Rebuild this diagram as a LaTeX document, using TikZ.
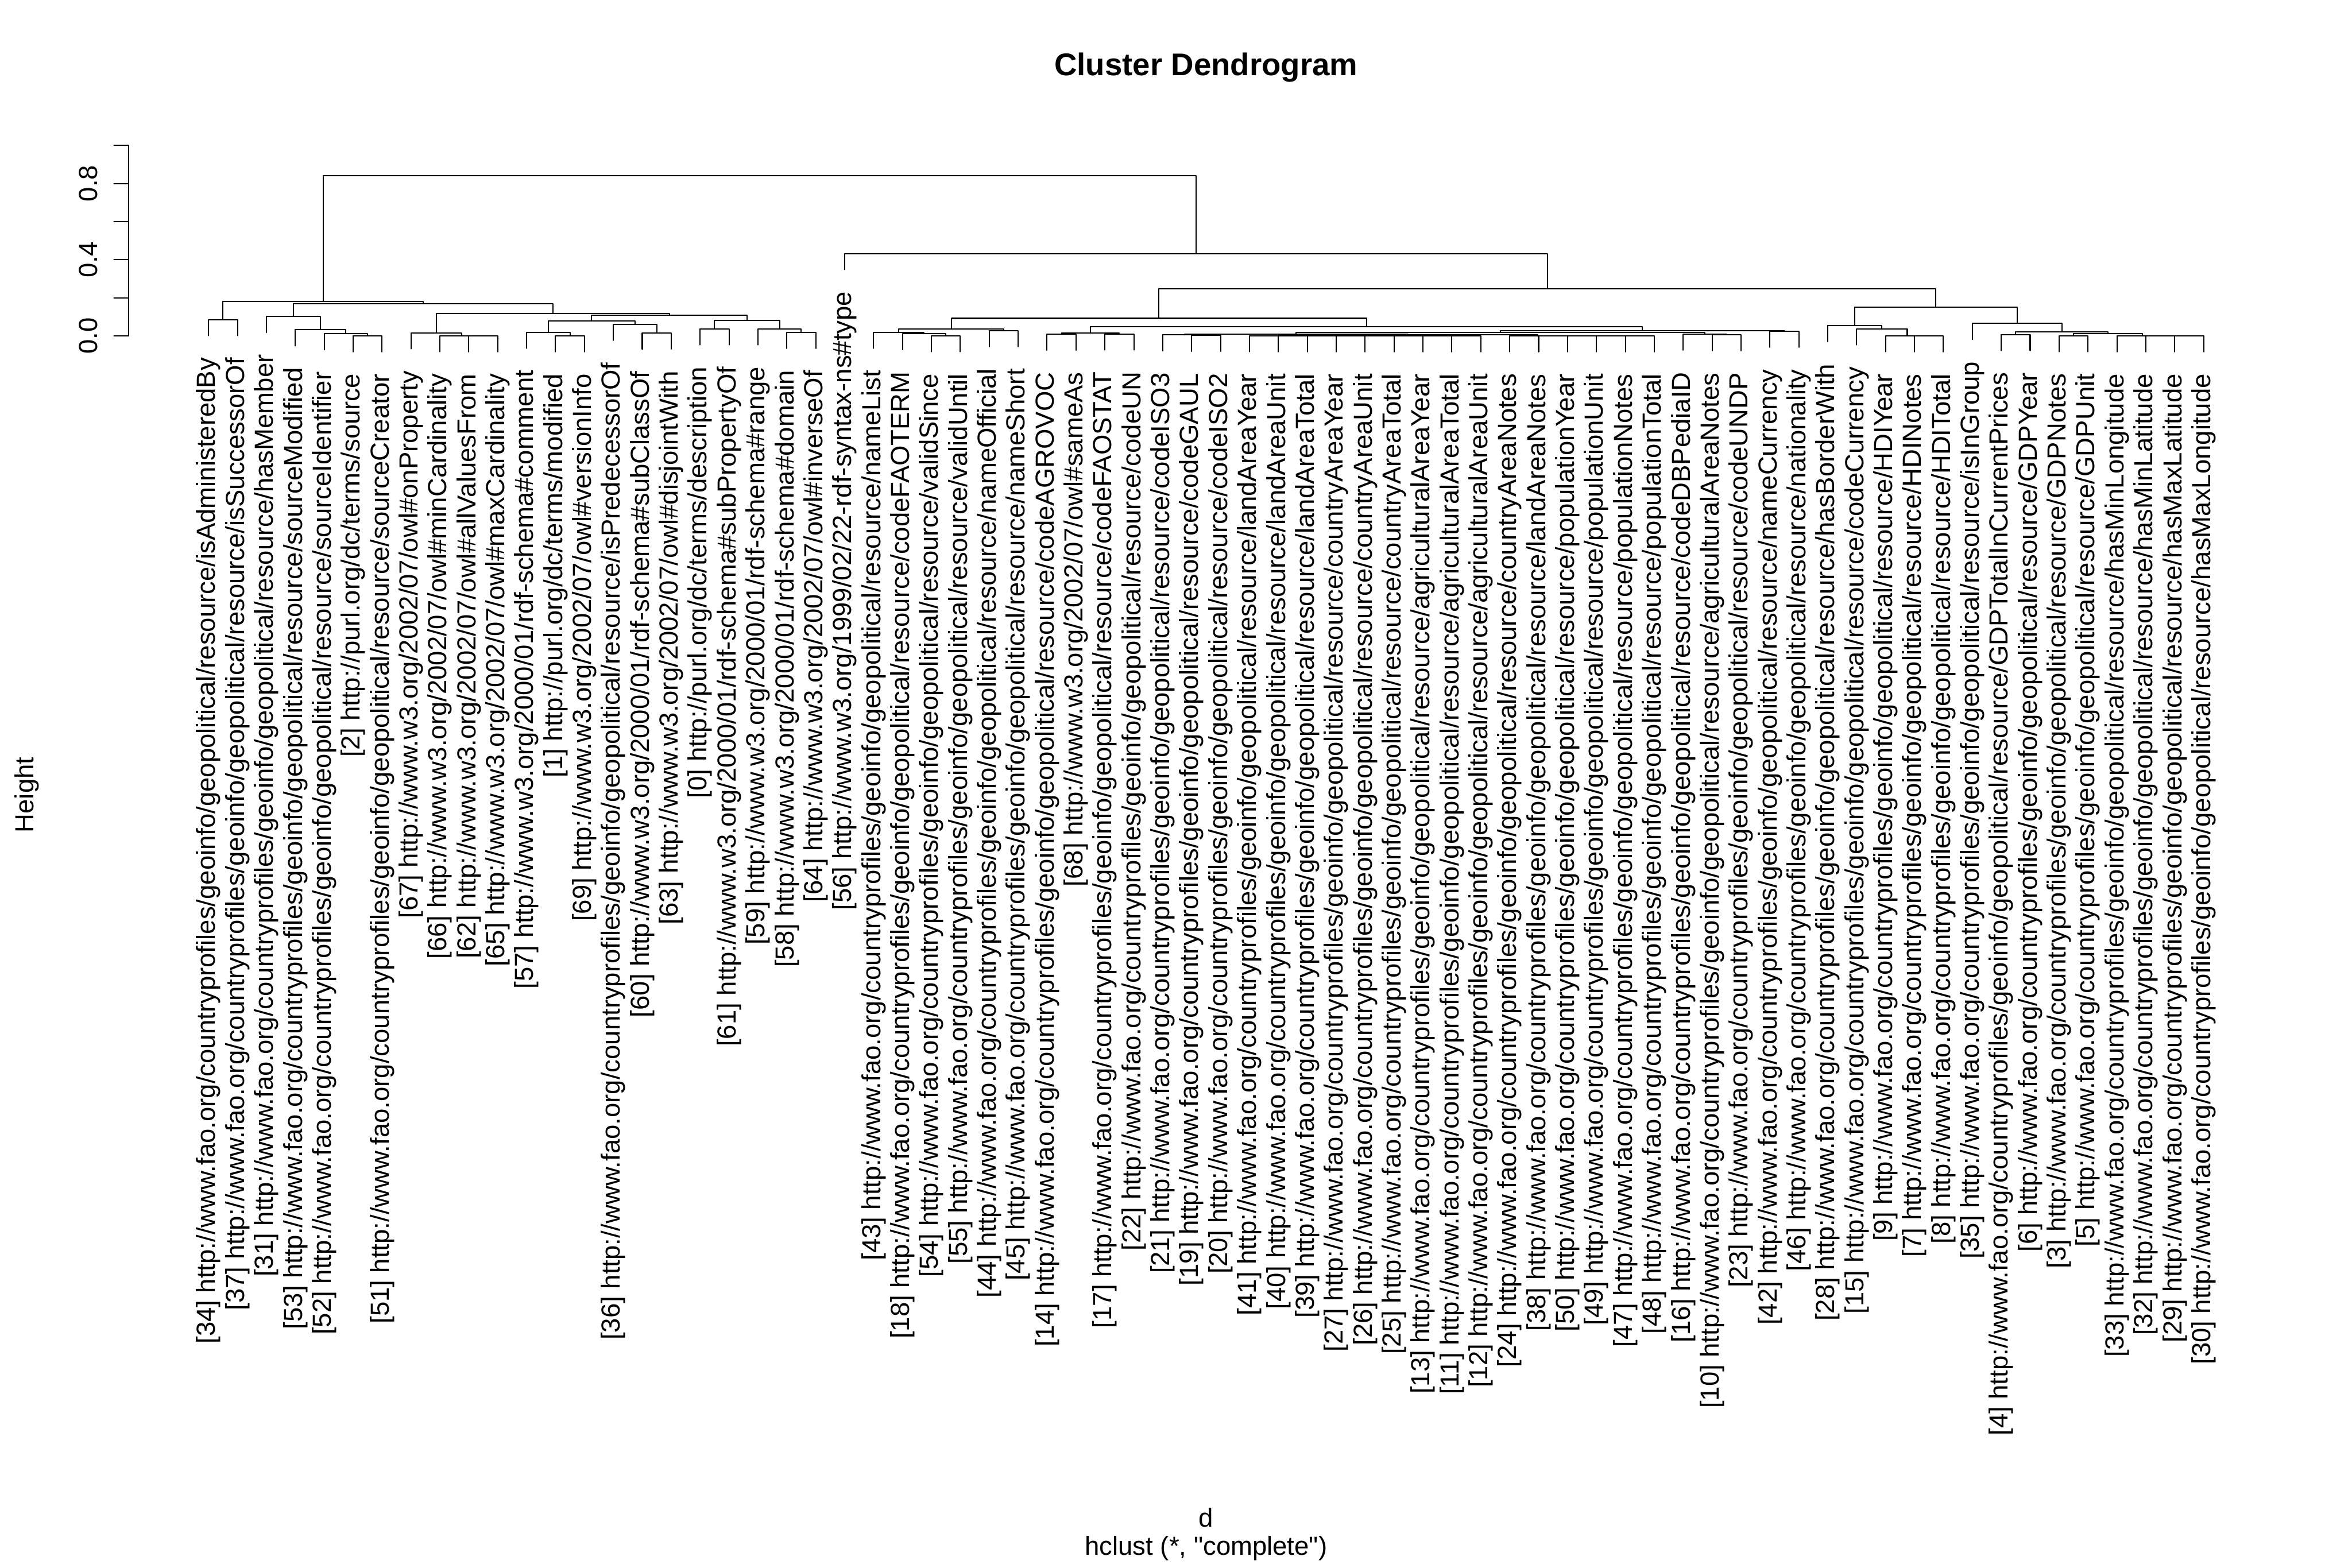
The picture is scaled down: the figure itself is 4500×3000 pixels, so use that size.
\documentclass[tikz,border=0pt]{standalone}
\usepackage{fontspec}
\setmainfont{Liberation Sans}
\newfontfamily\plainqfont{Liberation Sans}
\usetikzlibrary{calc}
\newcommand\FGeo{http://www.fao.org/countryprofiles/geoinfo/geopolitical/resource/}
\newcommand\FOwl{http://www.w3.org/2002/07/owl\#}
\newcommand\FRdfs{http://www.w3.org/2000/01/rdf-schema\#}
\newcommand\FDc{http://purl.org/dc/terms/}
% leaf: index, parent height, label
\newcommand\lf[3]{%
  \pgfmathsetmacro\lfx{399+(#1-1)*55.32}%
  \pgfmathsetmacro\lfy{642.7-364.4*(#2-0.084)}%
  \coordinate (l#1) at (\lfx,\lfy);
  \node[lab] (t#1) at ([yshift=-8.4pt]l#1) {#3};
}
% merge: name, child a, child b, height
\newcommand\mg[4]{%
  \path let \p1=(#2), \p2=(#3) in coordinate (#1) at ({0.5*\x1+0.5*\x2},{-0.2pt*(642.7-364.4*(#4))});
  \draw[tree] (#2) |- (#1) -| (#3);
}
\begin{document}
\begin{tikzpicture}[x=0.2pt,y=-0.2pt,
  tree/.style={line width=0.45pt, line cap=round, line join=round},
  lab/.style={inner sep=0pt, outer sep=0pt, font=\fontsize{10pt}{12pt}\selectfont, rotate=90, anchor=east},
  axlab/.style={inner sep=0pt, outer sep=0pt, font=\fontsize{10pt}{12pt}\selectfont, rotate=90, anchor=base},
  txt/.style={inner sep=0pt, outer sep=0pt, font=\fontsize{10pt}{12pt}\selectfont, anchor=base}]
\fill[white] (0,0) rectangle (4500,3000);
\useasboundingbox (0,0) rectangle (4500,3000);

% title and axis titles
\node[txt, font=\fontsize{12pt}{14pt}\selectfont\bfseries] (title) at (2307.5,144.5) {Cluster Dendrogram};
\node[axlab] (ylabel) at (64,1521) {Height};
\node[txt] (xlabel) at (2307.5,2922) {d};
\node[txt, font=\fontsize{10pt}{12pt}\plainqfont] (sublabel) at (2307.5,2976) {hclust (*, "complete")};

% y axis
\coordinate (ax0) at (246,642.7);
\coordinate (ax1) at (246,278.3);
\draw[tree] (ax0) -- (ax1);
\foreach \v [count=\k] in {0,0.2,0.4,0.6,0.8,1.0}{
  \coordinate (tk\k) at (246,{642.7-364.4*\v});
  \coordinate (tke\k) at (218,{642.7-364.4*\v});
  \draw[tree] (tk\k) -- (tke\k);
}
\node[axlab] (y00) at (186,642.7) {0.0};
\node[axlab] (y04) at (186,496.94) {0.4};
\node[axlab] (y08) at (186,351.18) {0.8};

% leaves
\lf{1}{0.085}{[34] \FGeo isAdministeredBy}
\lf{2}{0.085}{[37] \FGeo isSuccessorOf}
\lf{3}{0.102}{[31] \FGeo hasMember}
\lf{4}{0.032}{[53] \FGeo sourceModified}
\lf{5}{0.011}{[52] \FGeo sourceIdentifier}
\lf{6}{0.000}{[2] \FDc source}
\lf{7}{0.000}{[51] \FGeo sourceCreator}
\lf{8}{0.016}{[67] \FOwl onProperty}
\lf{9}{0.001}{[66] \FOwl minCardinality}
\lf{10}{0.000}{[62] \FOwl allValuesFrom}
\lf{11}{0.000}{[65] \FOwl maxCardinality}
\lf{12}{0.019}{[57] \FRdfs comment}
\lf{13}{0.000}{[1] \FDc modified}
\lf{14}{0.000}{[69] \FOwl versionInfo}
\lf{15}{0.060}{[36] \FGeo isPredecessorOf}
\lf{16}{0.014}{[60] \FRdfs subClassOf}
\lf{17}{0.014}{[63] \FOwl disjointWith}
\lf{18}{0.037}{[0] \FDc description}
\lf{19}{0.037}{[61] \FRdfs subPropertyOf}
\lf{20}{0.037}{[59] \FRdfs range}
\lf{21}{0.018}{[58] \FRdfs domain}
\lf{22}{0.018}{[64] \FOwl inverseOf}
\lf{23}{0.432}{[56] http://www.w3.org/1999/02/22-rdf-syntax-ns\#type}
\lf{24}{0.019}{[43] \FGeo nameList}
\lf{25}{0.012}{[18] \FGeo codeFAOTERM}
\lf{26}{0.001}{[54] \FGeo validSince}
\lf{27}{0.001}{[55] \FGeo validUntil}
\lf{28}{0.027}{[44] \FGeo nameOfficial}
\lf{29}{0.027}{[45] \FGeo nameShort}
\lf{30}{0.008}{[14] \FGeo codeAGROVOC}
\lf{31}{0.008}{[68] \FOwl sameAs}
\lf{32}{0.010}{[17] \FGeo codeFAOSTAT}
\lf{33}{0.010}{[22] \FGeo codeUN}
\lf{34}{0.005}{[21] \FGeo codeISO3}
\lf{35}{0.002}{[19] \FGeo codeGAUL}
\lf{36}{0.002}{[20] \FGeo codeISO2}
\lf{37}{0.001}{[41] \FGeo landAreaYear}
\lf{38}{0.000}{[40] \FGeo landAreaUnit}
\lf{39}{0.000}{[39] \FGeo landAreaTotal}
\lf{40}{0.000}{[27] \FGeo countryAreaYear}
\lf{41}{0.000}{[26] \FGeo countryAreaUnit}
\lf{42}{0.000}{[25] \FGeo countryAreaTotal}
\lf{43}{0.000}{[13] \FGeo agriculturalAreaYear}
\lf{44}{0.000}{[11] \FGeo agriculturalAreaTotal}
\lf{45}{0.000}{[12] \FGeo agriculturalAreaUnit}
\lf{46}{0.001}{[24] \FGeo countryAreaNotes}
\lf{47}{0.000}{[38] \FGeo landAreaNotes}
\lf{48}{0.000}{[50] \FGeo populationYear}
\lf{49}{0.000}{[49] \FGeo populationUnit}
\lf{50}{0.000}{[47] \FGeo populationNotes}
\lf{51}{0.000}{[48] \FGeo populationTotal}
\lf{52}{0.009}{[16] \FGeo codeDBPediaID}
\lf{53}{0.006}{[10] \FGeo agriculturalAreaNotes}
\lf{54}{0.006}{[23] \FGeo codeUNDP}
\lf{55}{0.024}{[42] \FGeo nameCurrency}
\lf{56}{0.024}{[46] \FGeo nationality}
\lf{57}{0.053}{[28] \FGeo hasBorderWith}
\lf{58}{0.037}{[15] \FGeo codeCurrency}
\lf{59}{0.001}{[9] \FGeo HDIYear}
\lf{60}{0.000}{[7] \FGeo HDINotes}
\lf{61}{0.000}{[8] \FGeo HDITotal}
\lf{62}{0.065}{[35] \FGeo isInGroup}
\lf{63}{0.007}{[4] \FGeo GDPTotalInCurrentPrices}
\lf{64}{0.007}{[6] \FGeo GDPYear}
\lf{65}{0.001}{[3] \FGeo GDPNotes}
\lf{66}{0.001}{[5] \FGeo GDPUnit}
\lf{67}{0.000}{[33] \FGeo hasMinLongitude}
\lf{68}{0.000}{[32] \FGeo hasMinLatitude}
\lf{69}{0.000}{[29] \FGeo hasMaxLatitude}
\lf{70}{0.000}{[30] \FGeo hasMaxLongitude}

% left cluster
\mg{a1}{l1}{l2}{0.085}
\mg{a67}{l6}{l7}{0.000}
\mg{a5}{l5}{a67}{0.011}
\mg{a4}{l4}{a5}{0.032}
\mg{A2}{l3}{a4}{0.102}
\mg{c1011}{l10}{l11}{0.000}
\mg{c9}{l9}{c1011}{0.001}
\mg{c8}{l8}{c9}{0.016}
\mg{e1314}{l13}{l14}{0.000}
\mg{e12}{l12}{e1314}{0.019}
\mg{e1617}{l16}{l17}{0.014}
\mg{e15}{l15}{e1617}{0.060}
\mg{E}{e12}{e15}{0.078}
\mg{f1819}{l18}{l19}{0.037}
\mg{f2122}{l21}{l22}{0.018}
\mg{f20}{l20}{f2122}{0.037}
\mg{F}{f1819}{f20}{0.081}
\mg{D}{E}{F}{0.108}
\mg{C}{c8}{D}{0.117}
\mg{B}{A2}{C}{0.168}
\mg{Lft}{a1}{B}{0.181}

% right cluster
\mg{g2627}{l26}{l27}{0.001}
\mg{g25}{l25}{g2627}{0.012}
\mg{g24}{l24}{g25}{0.019}
\mg{g2829}{l28}{l29}{0.027}
\mg{G}{g24}{g2829}{0.035}
\mg{u3031}{l30}{l31}{0.008}
\mg{u3233}{l32}{l33}{0.010}
\mg{u30}{u3031}{u3233}{0.016}
\mg{p3536}{l35}{l36}{0.002}
\mg{p34}{l34}{p3536}{0.005}
\mg{r44}{l44}{l45}{0.000}
\mg{r43}{l43}{r44}{0.000}
\mg{r42}{l42}{r43}{0.000}
\mg{r41}{l41}{r42}{0.000}
\mg{r40}{l40}{r41}{0.000}
\mg{r39}{l39}{r40}{0.000}
\mg{r38}{l38}{r39}{0.000}
\mg{r37}{l37}{r38}{0.001}
\mg{s50}{l50}{l51}{0.000}
\mg{s49}{l49}{s50}{0.000}
\mg{s48}{l48}{s49}{0.000}
\mg{s47}{l47}{s48}{0.000}
\mg{s46}{l46}{s47}{0.001}
\mg{P2}{r37}{s46}{0.007}
\mg{P}{p34}{P2}{0.010}
\mg{q5354}{l53}{l54}{0.006}
\mg{Q}{l52}{q5354}{0.009}
\mg{M}{P}{Q}{0.018}
\mg{h5556}{l55}{l56}{0.024}
\mg{H}{M}{h5556}{0.027}
\mg{U}{u30}{H}{0.047}
\mg{T}{G}{U}{0.092}
\mg{i6061}{l60}{l61}{0.000}
\mg{i59}{l59}{i6061}{0.001}
\mg{i58}{l58}{i59}{0.037}
\mg{I}{l57}{i58}{0.053}
\mg{j6364}{l63}{l64}{0.007}
\mg{j6970}{l69}{l70}{0.000}
\mg{j68}{l68}{j6970}{0.000}
\mg{j67}{l67}{j68}{0.000}
\mg{j6566}{l65}{l66}{0.001}
\mg{j65}{j6566}{j67}{0.012}
\mg{j63}{j6364}{j65}{0.021}
\mg{J}{l62}{j63}{0.065}
\mg{K}{I}{J}{0.152}
\mg{S}{T}{K}{0.247}
\mg{Rgt}{l23}{S}{0.432}
\mg{Root}{Lft}{Rgt}{0.840}
\end{tikzpicture}
\end{document}
